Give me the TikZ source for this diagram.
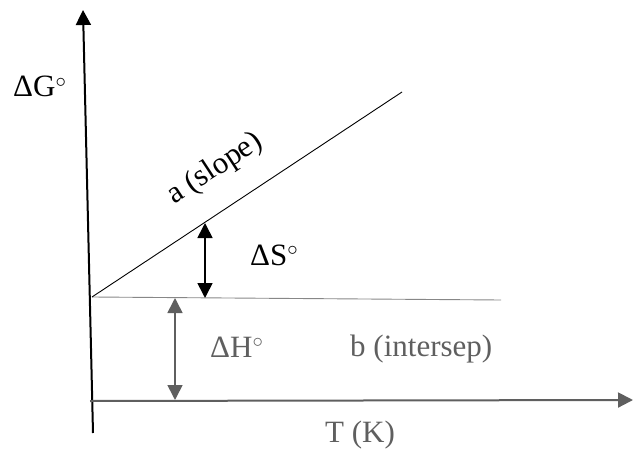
\documentclass[tikz,border=0pt]{standalone}
\usepackage{fontspec}
\setmainfont{Liberation Serif}
\usetikzlibrary{arrows.meta}
\definecolor{axisgray}{RGB}{95,95,95}
\definecolor{linegray}{RGB}{135,135,135}

\begin{document}
\begin{tikzpicture}[x=1pt, y=-1pt, >={Triangle[width=15pt,length=15pt]},
    font=\fontsize{31}{36}\selectfont, lbl/.style={anchor=base west, inner sep=0pt}]
  \useasboundingbox (0,0) rectangle (636,454);

  % axes
  \coordinate (ybot) at (93,433);
  \coordinate (ytop) at (83,10);
  \coordinate (xleft) at (90,401);
  \coordinate (xright) at (633,400);
  \draw[->, line width=2pt] (ybot) -- (ytop);
  \draw[->, line width=2pt, axisgray] (xleft) -- (xright);

  % intercept and slope lines
  \coordinate (orig) at (92,297);
  \coordinate (hend) at (501,300);
  \coordinate (send) at (402,92);
  \draw[linegray, line width=0.9pt] (orig) -- (hend);
  \draw[line width=0.9pt] (orig) -- (send);

  % difference arrows
  \coordinate (stop) at (205,223);
  \coordinate (sbot) at (205,298);
  \draw[<->, line width=1.6pt] (stop) -- (sbot);
  \coordinate (htop) at (175,298);
  \coordinate (hbot) at (175,400);
  \draw[<->, line width=1.6pt, axisgray] (htop) -- (hbot);

  % labels
  \node[lbl] (dG) at (13,97) {ΔG$^\circ$};
  \node[lbl, rotate=33.3] (slope) at (174,205) {a (slope)};
  \node[lbl] (dS) at (250,265) {ΔS$^\circ$};
  \node[lbl, text=axisgray] (dH) at (210,357) {ΔH$^\circ$};
  \node[lbl, text=axisgray] (icpt) at (350,356) {b (intersep)};
  \node[lbl, text=axisgray] (tk) at (325,442) {T (K)};
\end{tikzpicture}
\end{document}
